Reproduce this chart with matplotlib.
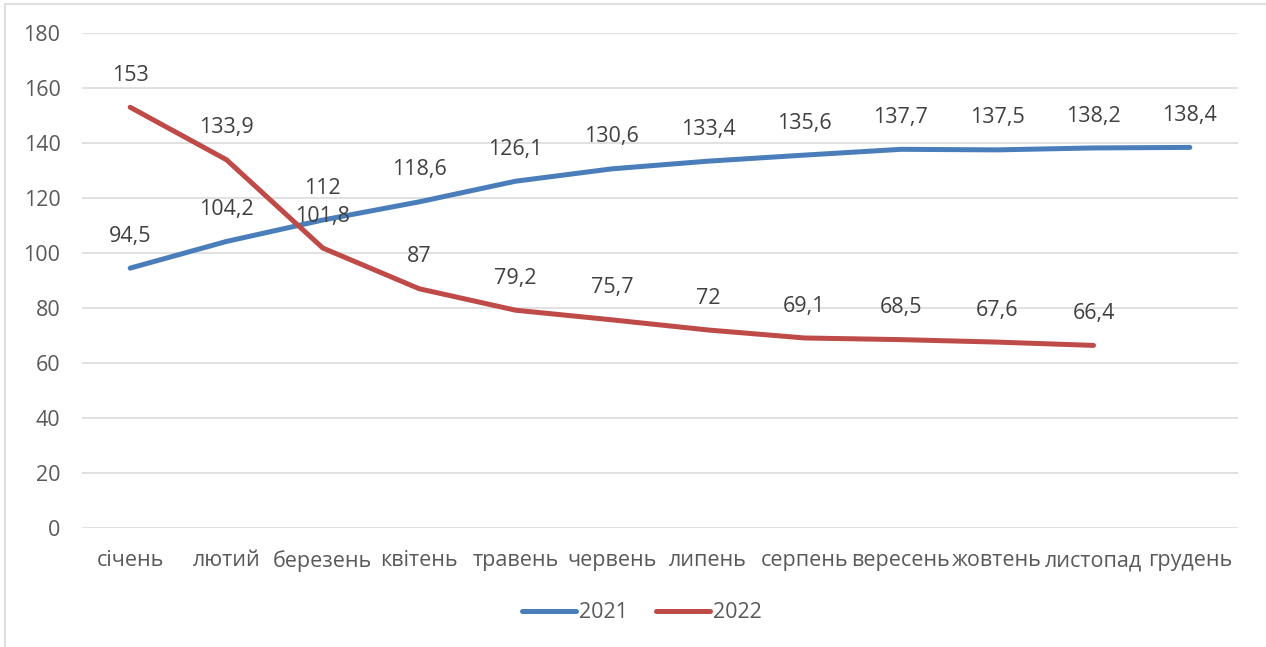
import matplotlib
matplotlib.use("Agg")
import matplotlib.pyplot as plt
from matplotlib.patches import Rectangle

months = ["січень", "лютий", "березень", "квітень", "травень", "червень",
          "липень", "серпень", "вересень", "жовтень", "листопад", "грудень"]
values_2021 = [94.5, 104.2, 112, 118.6, 126.1, 130.6, 133.4, 135.6, 137.7, 137.5, 138.2, 138.4]
values_2022 = [153, 133.9, 101.8, 87, 79.2, 75.7, 72, 69.1, 68.5, 67.6, 66.4]
labels_2021 = ["94,5", "104,2", "112", "118,6", "126,1", "130,6", "133,4", "135,6", "137,7", "137,5", "138,2", "138,4"]
labels_2022 = ["153", "133,9", "101,8", "87", "79,2", "75,7", "72", "69,1", "68,5", "67,6", "66,4"]
yticks = [0, 20, 40, 60, 80, 100, 120, 140, 160, 180]

plt.rcParams['font.family'] = ['Open Sans', 'DejaVu Sans']
TXT = "#404040"
AX = "#595959"
FS = 15.5

fig = plt.figure(figsize=(12.66, 6.47), dpi=100)
W, H = 1266, 647
ax = fig.add_axes([82 / W, 1 - 528 / H, (1238 - 82) / W, (528 - 33) / H])

# chart border
fig.patches.append(Rectangle((5 / W, -0.1), 1.2, 1 - 4 / H + 0.1, transform=fig.transFigure,
                             fill=False, edgecolor="#D9D9D9", linewidth=1.2))

blue = "#4A7EBB"
red = "#BE4B48"
x21 = list(range(len(values_2021)))
x22 = list(range(len(values_2022)))
ax.plot(x21, values_2021, color=blue, lw=3.6, solid_capstyle="round", solid_joinstyle="round", label="2021", zorder=3)
ax.plot(x22, values_2022, color=red, lw=3.6, solid_capstyle="round", solid_joinstyle="round", label="2022", zorder=3)

for xi, v, t in zip(x21, values_2021, labels_2021):
    ax.annotate(t, (xi, v), xytext=(0, 23), textcoords="offset points", ha="center", va="center",
                fontsize=FS, color=TXT, zorder=4)
for xi, v, t in zip(x22, values_2022, labels_2022):
    ax.annotate(t, (xi, v), xytext=(0, 23), textcoords="offset points", ha="center", va="center",
                fontsize=FS, color=TXT, zorder=4)

ax.set_xlim(-0.5, len(months) - 0.5)
ax.set_ylim(0, 180)
ax.set_yticks(yticks)
ax.set_yticklabels([str(y) for y in yticks])
ax.set_xticks(range(len(months)))
ax.set_xticklabels(months)
ax.yaxis.grid(True, color="#D9D9D9", lw=1.1)
ax.set_axisbelow(True)
for s in ax.spines.values():
    s.set_visible(False)
ax.tick_params(axis="both", length=0, labelsize=FS, labelcolor=AX)
ax.tick_params(axis="y", pad=15.5)
ax.tick_params(axis="x", pad=16)

leg = fig.legend(loc="center", bbox_to_anchor=(642 / W, 1 - 613 / H), ncol=2, frameon=False,
                 fontsize=FS, handlelength=2.5, columnspacing=1.3, handletextpad=0.15)
for t in leg.get_texts():
    t.set_color(AX)

fig.savefig("out.png", dpi=100)
